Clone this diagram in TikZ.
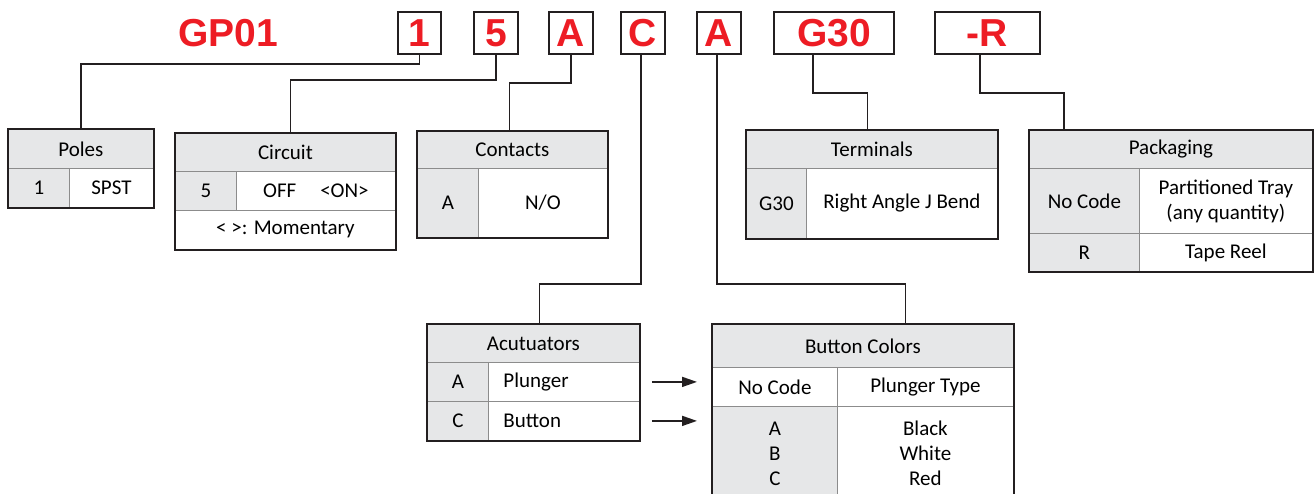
\documentclass[tikz,border=0pt]{standalone}
\usepackage{fontspec}
\setmainfont{Carlito}
\newfontfamily\codefont{Liberation Sans}
\usetikzlibrary{arrows.meta,positioning}

\definecolor{codered}{RGB}{237,28,36}
\definecolor{cellgray}{RGB}{230,231,232}
\definecolor{rulegray}{RGB}{140,140,140}
\definecolor{framecol}{RGB}{35,31,32}

\tikzset{
  codebox/.style={draw=framecol, line width=1.6pt, minimum height=42pt, inner sep=0pt,
    text=codered, font=\codefont\bfseries\fontsize{39}{39}\selectfont},
  codetext/.style={inner sep=0pt, text=codered, font=\codefont\bfseries\fontsize{39}{39}\selectfont},
  cell/.style={draw=rulegray, line width=0.8pt, inner sep=0pt, anchor=north west,
    font=\fontsize{21}{25}\selectfont},
  head/.style={cell, fill=cellgray},
  key/.style={cell, fill=cellgray},
  frame/.style={draw=framecol, line width=2pt},
  wire/.style={draw=framecol, line width=1.8pt},
  pointer/.style={draw=framecol, line width=1.6pt, -{Triangle[length=15pt,width=10pt]}},
}

\begin{document}
\begin{tikzpicture}[x=1pt, y=-1pt, line join=miter]

    \clip (0,0) rectangle (1314,493);

    % Code du produit
    \node[codetext] (gp) at (228,33) {GP01};
    \node[codebox, minimum width=43pt] (c1) at (419.5,33) {1};
    \node[codebox, minimum width=44pt] (c5) at (496,33) {5};
    \node[codebox, minimum width=44pt] (cA) at (571,33) {A};
    \node[codebox, minimum width=44pt] (cC) at (643,33) {C};
    \node[codebox, minimum width=44pt] (cA2) at (719,33) {A};
    \node[codebox, minimum width=120pt] (cG) at (834,33) {G30};
    \node[codebox, minimum width=105pt] (cR) at (987.5,33) {-R};

    % Poles
    \node[head, minimum width=145pt, minimum height=39pt] (poles) at (8,129) {Poles};
    \node[key, minimum width=61pt, minimum height=39pt] (poles1) at (8,168) {1};
    \node[cell, minimum width=84pt, minimum height=39pt] (polesSPST) at (69,168) {SPST};
    \draw[frame] (poles.north west) rectangle (polesSPST.south east);

    % Circuit
    \node[head, minimum width=220pt, minimum height=38pt] (circuit) at (175,133) {Circuit};
    \node[key, minimum width=61pt, minimum height=39pt] (circ5) at (175,171) {5};
    \node[cell, minimum width=159pt, minimum height=39pt] (circOFF) at (236,171) {OFF\hspace{24pt}<ON>};
    \node[cell, minimum width=220pt, minimum height=39pt] (circMom) at (175,210) {< >: Momentary};
    \draw[frame] (circuit.north west) rectangle (circMom.south east);

    % Contacts
    \node[head, minimum width=190pt, minimum height=37pt] (contacts) at (417,131) {Contacts};
    \node[key, minimum width=61pt, minimum height=69pt] (contA) at (417,168) {A};
    \node[cell, minimum width=129pt, minimum height=69pt] (contNO) at (478,168) {N/O};
    \draw[frame] (contacts.north west) rectangle (contNO.south east);

    % Terminals
    \node[head, minimum width=251pt, minimum height=38pt] (terminals) at (746,130) {Terminals};
    \node[key, minimum width=60pt, minimum height=70pt] (termG) at (746,168) {G30};
    \node[cell, minimum width=191pt, minimum height=70pt] (termRA) at (806,168) {Right Angle J Bend};
    \draw[frame] (terminals.north west) rectangle (termRA.south east);

    % Packaging
    \node[head, minimum width=283pt, minimum height=38pt] (packaging) at (1029,130) {Packaging};
    \node[key, minimum width=110pt, minimum height=65pt] (packNo) at (1029,168) {No Code};
    \node[cell, minimum width=173pt, minimum height=65pt, align=center] (packTray) at (1139,168) {Partitioned Tray\\(any quantity)};
    \node[key, minimum width=110pt, minimum height=38pt] (packR) at (1029,233) {R};
    \node[cell, minimum width=173pt, minimum height=38pt] (packReel) at (1139,233) {Tape Reel};
    \draw[frame] (packaging.north west) rectangle (packReel.south east);

    % Acutuators
    \node[head, minimum width=212pt, minimum height=38pt] (actuators) at (427,324) {Acutuators};
    \node[key, minimum width=61pt, minimum height=39pt] (actA) at (427,362) {A};
    \node[cell, minimum width=151pt, minimum height=39pt, text width=121pt, inner xsep=15pt, align=left] (actPlunger) at (488,362) {Plunger};
    \node[key, minimum width=61pt, minimum height=39pt] (actC) at (427,401) {C};
    \node[cell, minimum width=151pt, minimum height=39pt, text width=121pt, inner xsep=15pt, align=left] (actButton) at (488,401) {Button};
    \draw[frame] (actuators.north west) rectangle (actButton.south east);

    % Button Colors (coupe en bas)
    \node[head, minimum width=301pt, minimum height=43pt] (colors) at (712,324) {Button Colors};
    \node[cell, minimum width=125pt, minimum height=39pt] (colNo) at (712,367) {No Code};
    \node[cell, minimum width=176pt, minimum height=39pt] (colType) at (837,367) {Plunger Type};
    \node[key, minimum width=125pt, minimum height=94pt, align=center] (colCodes) at (712,406) {A\\B\\C};
    \node[cell, minimum width=176pt, minimum height=94pt, align=center] (colNames) at (837,406) {Black\\White\\Red};
    \draw[frame] (colCodes.south west) |- (colors.north east) -- (colNames.south east);

    % Liaisons vers les tableaux
    \draw[wire] (c1.south) -- ++(0,9) -| (poles.north);
    \draw[wire] (c5.south) -- ++(0,25) -| ([xshift=5pt]circuit.north);
    \draw[wire] (cA.south) -- ++(0,28) -| ([xshift=-3pt]contacts.north);
    \draw[wire] ([xshift=-2pt]cC.south) -- ++(0,229) -| ([xshift=6pt]actuators.north);
    \draw[wire] ([xshift=-2pt]cA2.south) -- ++(0,229) -| ([xshift=42.5pt]colors.north);
    \draw[wire] ([xshift=-21pt]cG.south) -- ++(0,38) -| ([xshift=-4.5pt]terminals.north);
    \draw[wire] ([xshift=-7.5pt]cR.south) -- ++(0,38) -| ([xshift=-107pt]packaging.north);

    % Fleches
    \draw[pointer] ([xshift=12pt]actPlunger.east) -- ([xshift=-15pt]actPlunger.east -| colNo.west);
    \draw[pointer] ([xshift=12pt]actButton.east) -- ([xshift=-15pt]actButton.east -| colCodes.west);

\end{tikzpicture}
\end{document}
